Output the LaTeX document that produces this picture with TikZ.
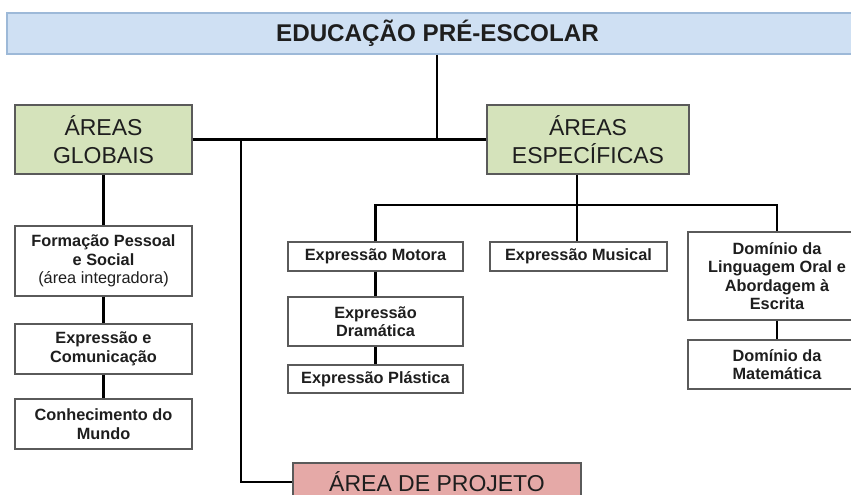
\documentclass[tikz,border=0pt]{standalone}
\usepackage{fontspec}
\setmainfont{Liberation Sans}
\definecolor{topfill}{HTML}{CFE0F3}
\definecolor{topdraw}{HTML}{9DB9D8}
\definecolor{greenfill}{HTML}{D5E3BB}
\definecolor{pinkfill}{HTML}{E5A9A7}
\definecolor{boxgray}{HTML}{5A5A5A}
\definecolor{txt}{HTML}{1E1E1E}
\begin{document}
\begin{tikzpicture}[x=1pt,y=-1pt,
  box/.style={draw=boxgray,line width=1.1pt,fill=white,inner sep=0pt,align=center,text=txt,
    font=\fontsize{16.3}{18.5}\selectfont\bfseries},
  head/.style={draw=boxgray,line width=1.1pt,fill=greenfill,inner sep=0pt,align=center,text=txt,
    font=\fontsize{23}{28}\selectfont},
  link/.style={line width=2.6pt,black}]
\useasboundingbox (0,0) rectangle (851,495);
% title
\node[draw=topdraw,line width=1.1pt,fill=topfill,inner sep=0pt,text=txt,
  minimum width=861pt,minimum height=41pt,font=\fontsize{24.2}{28}\selectfont\bfseries]
  (top) at (437.5,33.5) {EDUCAÇÃO PRÉ-ESCOLAR};
% headings
\node[head,minimum width=177pt,minimum height=69pt] (glob) at (103.5,139.5) {ÁREAS\\GLOBAIS};
\node[head,minimum width=202pt,minimum height=69pt] (esp) at (588,139.5) {ÁREAS\\ESPECÍFICAS};
\node[head,fill=pinkfill,minimum width=288pt,minimum height=38pt] (proj) at (437,482) {ÁREA DE PROJETO};
% global areas
\node[box,minimum width=177pt,minimum height=70pt] (fps) at (103.5,261) {Formação Pessoal\\e Social\\{\mdseries(área integradora)}};
\node[box,minimum width=177pt,minimum height=50pt] (expc) at (103.5,349) {Expressão e\\Comunicação};
\node[box,minimum width=177pt,minimum height=50pt] (conh) at (103.5,424) {Conhecimento do\\Mundo};
% specific areas
\node[box,minimum width=175pt,minimum height=29pt] (mot) at (375.5,256.5) {Expressão Motora};
\node[box,minimum width=175pt,minimum height=49pt] (dram) at (375.5,321.5) {Expressão\\Dramática};
\node[box,minimum width=175pt,minimum height=28pt] (plast) at (375.5,379) {Expressão Plástica};
\node[box,minimum width=177pt,minimum height=29pt] (mus) at (578.5,256.5) {Expressão Musical};
\node[box,minimum width=178pt,minimum height=88pt] (ling) at (777,276) {Domínio da\\Linguagem Oral e\\Abordagem à\\Escrita};
\node[box,minimum width=178pt,minimum height=49pt] (mat) at (777,364.5) {Domínio da\\Matemática};
% connectors
\coordinate (tj) at (437,139.5);
\draw[link] (tj |- top.south) -- (tj);
\draw[link] (glob.east) -- (esp.west);
\coordinate (pj) at (241,139.5);
\draw[link] (pj) -- (pj |- proj.west) -- (proj.west);
\draw[link] (glob.south) -- (fps.north);
\draw[link] (fps.south) -- (expc.north);
\draw[link] (expc.south) -- (conh.north);
\coordinate (ej) at (577,205);
\draw[link] (ej |- esp.south) -- (ej);
\draw[link] (mot.north) |- (ling.north |- ej) -- (ling.north);
\draw[link] (ej) -- (ej |- mus.north);
\draw[link] (mot.south) -- (dram.north);
\draw[link] (dram.south) -- (plast.north);
\draw[link] (ling.south) -- (mat.north);
\end{tikzpicture}
\end{document}
